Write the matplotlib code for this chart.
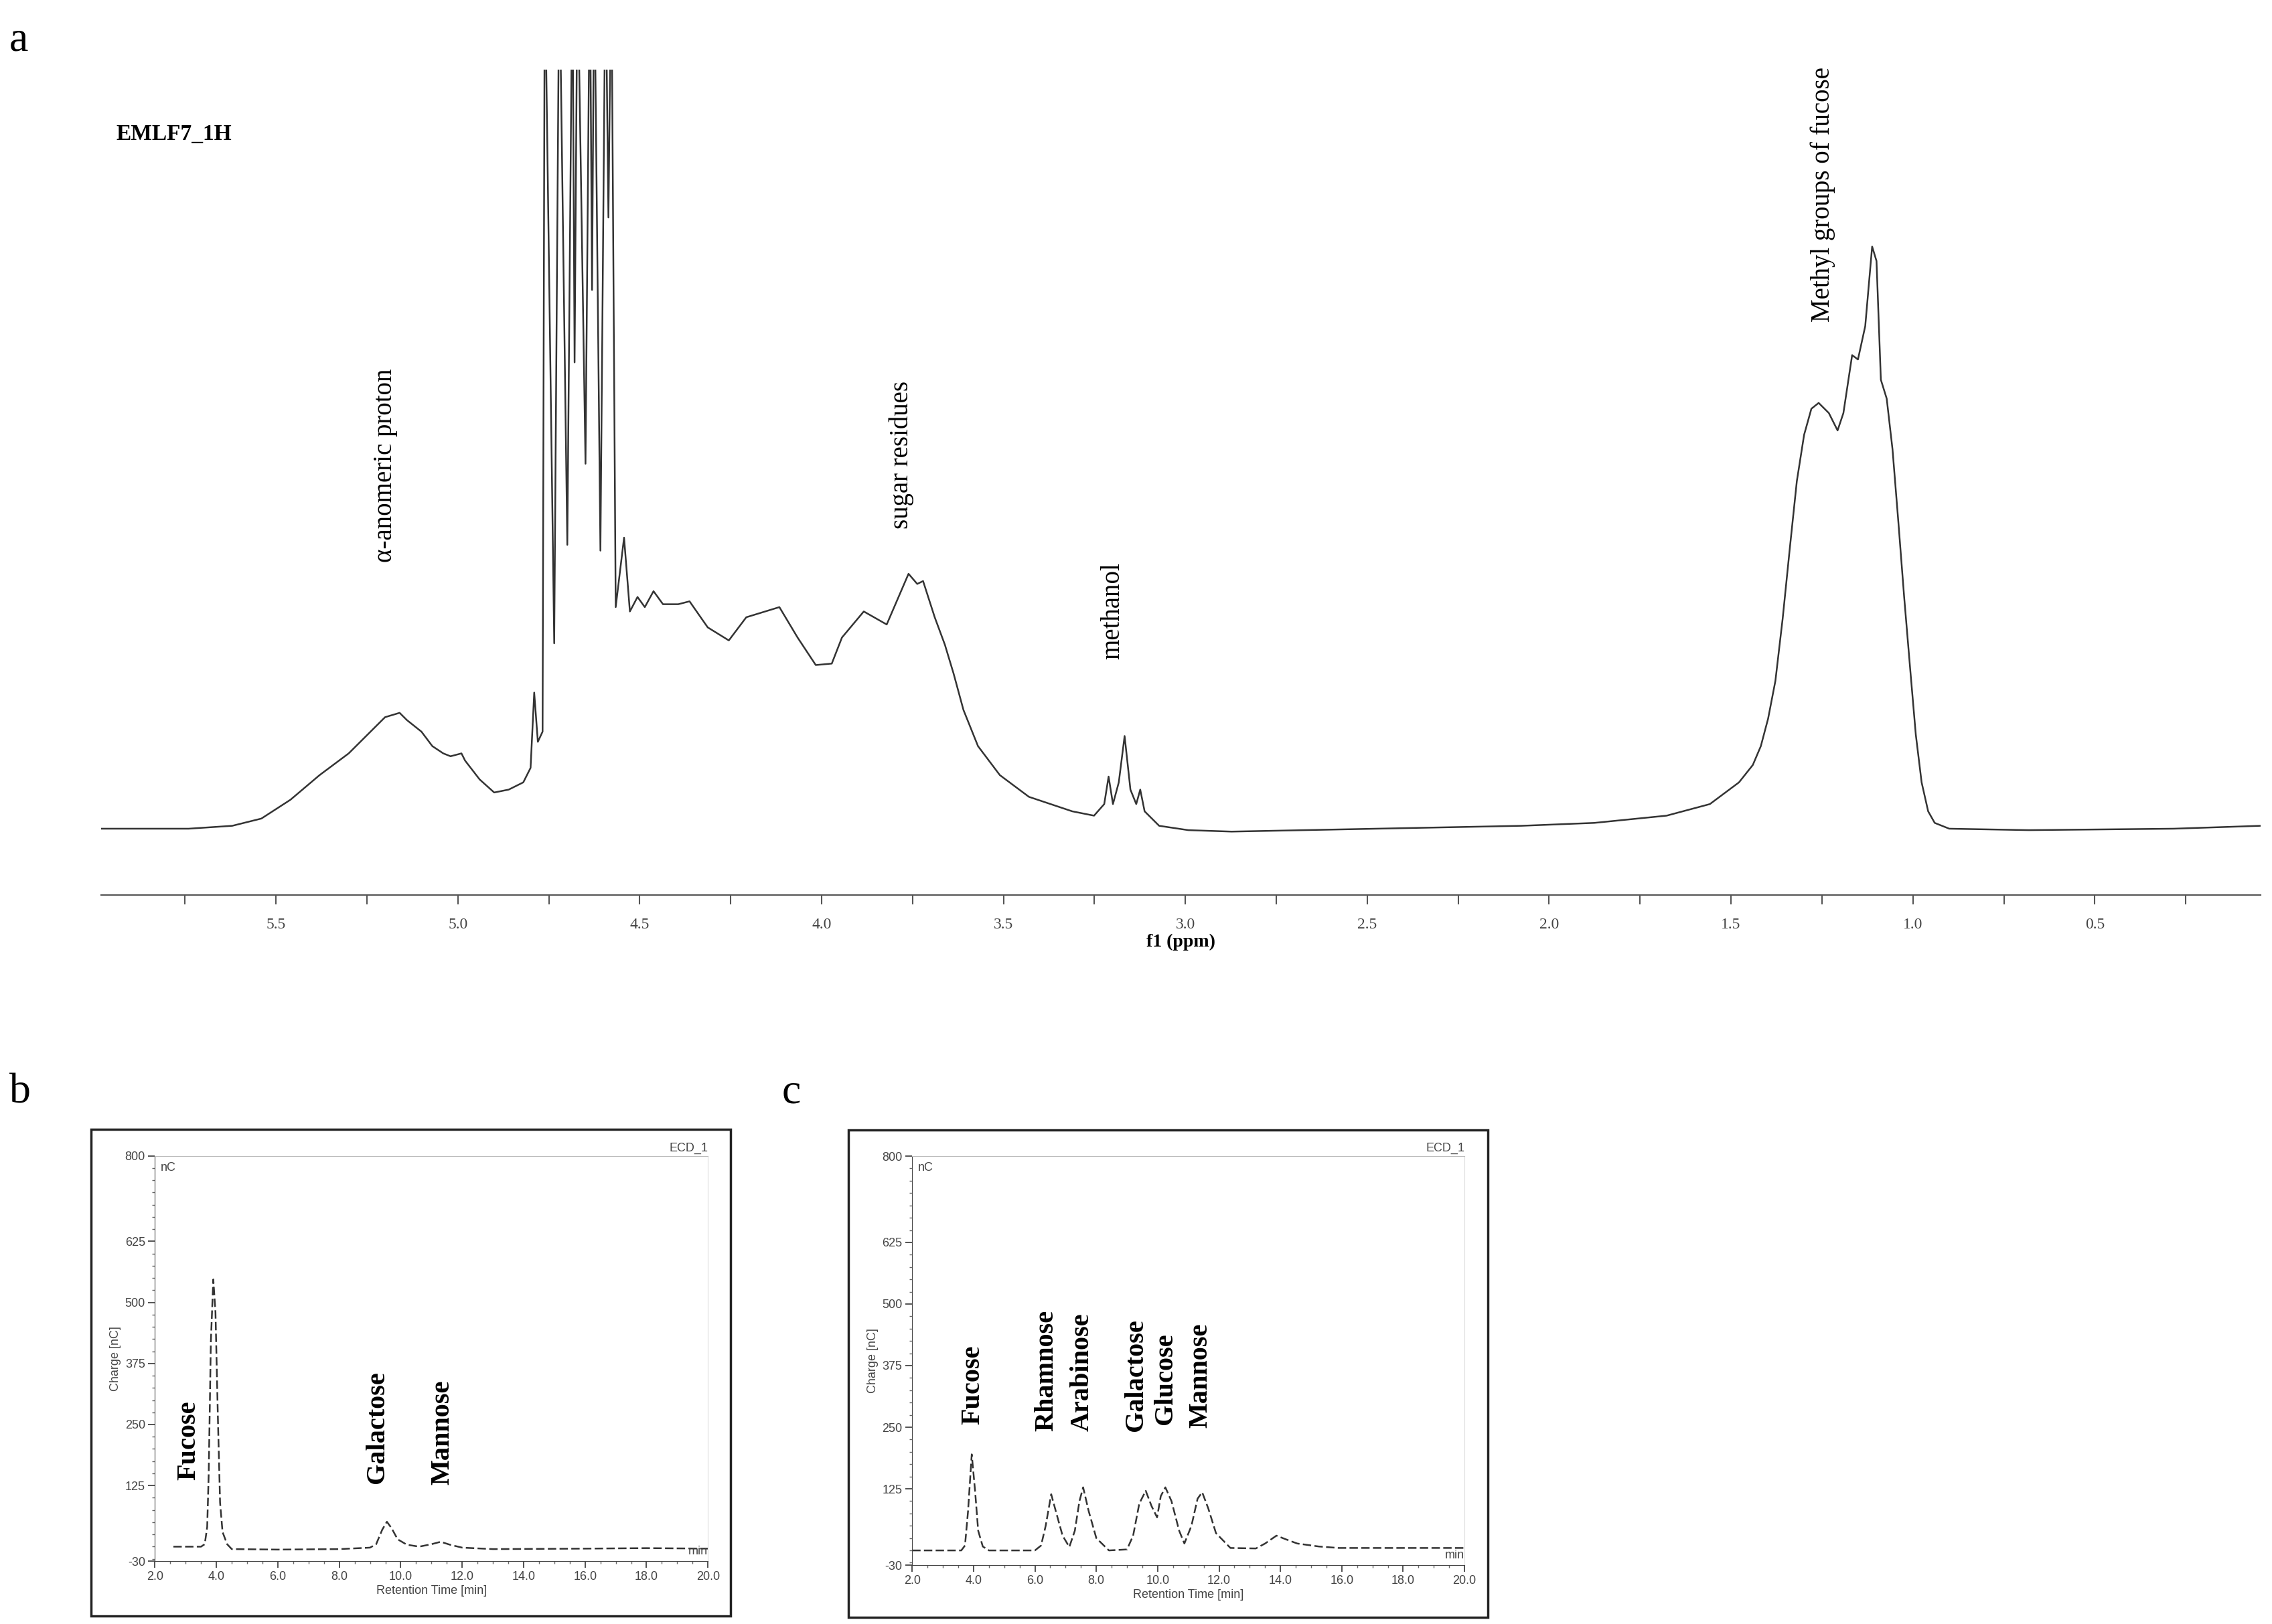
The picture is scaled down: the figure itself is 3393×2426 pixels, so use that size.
import numpy as np
import matplotlib
matplotlib.use('Agg')
import matplotlib.pyplot as plt
from matplotlib.patches import Rectangle
from matplotlib.ticker import MultipleLocator

serif = ['Liberation Serif', 'DejaVu Serif']
sans = ['Liberation Sans', 'DejaVu Sans']

# ---- panel a: 1H NMR trace (ppm, intensity)
nmr_ppm = [5.98, 5.74, 5.62, 5.54, 5.46, 5.38, 5.30, 5.24, 5.20, 5.16, 5.14, 5.10, 5.07, 5.04,
           5.02, 4.99, 4.98, 4.94, 4.90, 4.86, 4.82, 4.80, 4.79, 4.78, 4.767, 4.761, 4.735,
           4.721, 4.699, 4.685, 4.679, 4.671, 4.649, 4.637, 4.631, 4.625, 4.608, 4.594, 4.586,
           4.578, 4.566, 4.543, 4.527, 4.506, 4.486, 4.462, 4.436, 4.394, 4.363, 4.313, 4.255,
           4.207, 4.116, 4.066, 4.016, 3.972, 3.944, 3.884, 3.821, 3.761, 3.737, 3.721, 3.689,
           3.661, 3.637, 3.610, 3.570, 3.510, 3.430, 3.311, 3.251, 3.223, 3.211, 3.199, 3.183,
           3.167, 3.151, 3.135, 3.124, 3.112, 3.072, 2.992, 2.873, 2.673, 2.275, 2.076, 1.876,
           1.677, 1.558, 1.478, 1.440, 1.418, 1.398, 1.378, 1.358, 1.339, 1.319, 1.299, 1.279,
           1.259, 1.231, 1.207, 1.191, 1.167, 1.151, 1.131, 1.112, 1.100, 1.088, 1.072, 1.056,
           1.040, 1.024, 1.008, 0.992, 0.976, 0.958, 0.940, 0.900, 0.681, 0.283, 0.044]
nmr_int = [0, 0, 2, 7, 20, 37, 52, 67, 77, 80, 75, 67, 57, 52,
           50, 52, 47, 34, 25, 27, 32, 42, 94, 60, 67, 600, 128,
           600, 196, 600, 322, 600, 252, 600, 372, 600, 192, 600, 422,
           600, 153, 201, 150, 160, 153, 164, 155, 155, 157, 139, 130,
           146, 153, 132, 113, 114, 132, 150, 141, 176, 169, 171, 146,
           127, 107, 82, 57, 37, 22, 12, 9, 17, 36, 17, 32,
           64, 27, 17, 27, 12, 2, -1, -2, -1, 1, 2, 4,
           9, 17, 32, 44, 57, 76, 102, 145, 192, 240, 272, 290,
           294, 287, 275, 287, 327, 324, 347, 402, 392, 310, 297, 262,
           212, 160, 112, 65, 32, 12, 4, 0, -1, 0, 2]

nmr_labels = ['\u03b1-anomeric proton', 'sugar residues', 'methanol', 'Methyl groups of fucose']
nmr_label_ppm = [5.20, 3.78, 3.20, 1.247]
nmr_label_int = [184, 207, 117, 350]

# ---- panel b / c: HPAEC chromatograms (min, nC)
b_time = [2.6, 3.5, 3.62, 3.70, 3.75, 3.82, 3.9, 3.97, 4.05, 4.12, 4.2, 4.35, 4.5, 6.0, 8.0,
          9.0, 9.2, 9.4, 9.55, 9.7, 9.9, 10.2, 10.6, 11.0, 11.3, 11.6, 12.0, 13.0, 16.0, 18.0, 20.0]
b_charge = [0, 0, 5, 40, 150, 420, 547, 480, 260, 90, 30, 5, -5, -6, -5,
            -2, 5, 35, 51, 38, 15, 4, 0, 5, 10, 4, -2, -5, -4, -3, -4]
b_names = ['Fucose', 'Galactose', 'Mannose']
b_name_t = [3.09, 9.24, 11.35]
b_name_y = [136, 129, 127]

c_time = [2.0, 3.6, 3.72, 3.82, 3.94, 4.05, 4.15, 4.3, 4.5, 6.0, 6.2, 6.35, 6.53, 6.7, 6.9,
          7.12, 7.3, 7.45, 7.57, 7.75, 8.0, 8.41, 9.0, 9.2, 9.4, 9.61, 9.8, 9.98, 10.1, 10.25,
          10.45, 10.7, 10.87, 11.1, 11.3, 11.45, 11.65, 11.9, 12.37, 13.2, 13.5, 13.87, 14.2,
          14.55, 15.25, 15.9, 20.0]
c_charge = [0, 0, 10, 80, 195, 120, 40, 8, 0, 0, 10, 50, 114, 75, 30,
            7, 40, 100, 128, 80, 25, 0, 2, 30, 95, 121, 90, 67, 110, 128,
            100, 40, 14, 50, 105, 118, 85, 35, 5, 4, 14, 30, 22,
            14, 8, 5, 5]
c_names = ['Fucose', 'Rhamnose', 'Arabinose', 'Galactose', 'Glucose', 'Mannose']
c_name_t = [3.98, 6.37, 7.55, 9.30, 10.25, 11.39]
c_name_y = [256, 242, 242, 242, 256, 249]

chrom_yticks = [-30, 125, 250, 375, 500, 625, 800]
chrom_xticks = [2, 4, 6, 8, 10, 12, 14, 16, 18, 20]

fig = plt.figure(figsize=(33.93, 24.26), dpi=100)

# ---------------- panel a
ax = fig.add_axes([0.0446, 0.4487, 0.9504, 0.5083])
ax.plot(nmr_ppm, nmr_int, color='#333333', lw=1.8)
ax.set_xlim(5.98, 0.044)
ax.set_ylim(-46, 524)
for s in ['top', 'left', 'right']:
    ax.spines[s].set_visible(False)
ax.spines['bottom'].set_color('#555555')
ax.spines['bottom'].set_linewidth(1.5)
ax.set_yticks([])
ax.xaxis.set_minor_locator(MultipleLocator(0.25))
ax.set_xticks([5.5, 5.0, 4.5, 4.0, 3.5, 3.0, 2.5, 2.0, 1.5, 1.0, 0.5])
ax.tick_params(axis='x', which='both', direction='out', length=10, width=1.5,
               color='#555555', labelsize=17, labelcolor='#444444', pad=14)
for t in ax.get_xticklabels():
    t.set_family(serif)
ax.set_xlabel('f1 (ppm)', fontsize=20, family=serif, fontweight='bold', labelpad=2)
ax.text(0.007, 0.915, 'EMLF7_1H', transform=ax.transAxes, fontsize=24,
        family=serif, fontweight='bold')
for lab, p, h in zip(nmr_labels, nmr_label_ppm, nmr_label_int):
    ax.text(p, h, lab, rotation=90, ha='center', va='bottom', fontsize=28, family=serif)

fig.text(0.004, 0.975, 'a', fontsize=46, family=serif, va='center')
fig.text(0.004, 0.327, 'b', fontsize=46, family=serif, va='center')
fig.text(0.344, 0.327, 'c', fontsize=46, family=serif, va='center')


def chrom(rect, box, t, y, names, nt, ny):
    fig.patches.append(Rectangle(box[:2], box[2], box[3], transform=fig.transFigure,
                                 fill=False, lw=2.5, ec='#222222'))
    axc = fig.add_axes(rect)
    axc.plot(t, y, color='#333333', lw=1.8, ls=(0, (5, 2)))
    axc.set_xlim(2, 20)
    axc.set_ylim(-30, 800)
    axc.spines['top'].set_color('#bbbbbb')
    axc.spines['right'].set_color('#dddddd')
    axc.spines['left'].set_color('#444444')
    axc.spines['bottom'].set_color('#444444')
    axc.set_xticks(chrom_xticks)
    axc.set_xticklabels([f'{v:.1f}' for v in chrom_xticks])
    axc.xaxis.set_minor_locator(MultipleLocator(0.5))
    axc.set_yticks(chrom_yticks)
    axc.set_yticklabels([str(v) for v in chrom_yticks])
    axc.yaxis.set_minor_locator(MultipleLocator(25))
    axc.tick_params(which='major', length=7, width=1.3, color='#444444',
                    labelsize=13, labelcolor='#444444')
    axc.tick_params(which='minor', length=3, width=1.0, color='#666666')
    for tl in axc.get_xticklabels() + axc.get_yticklabels():
        tl.set_family(sans)
    axc.set_xlabel('Retention Time [min]', fontsize=13, color='#444444', family=sans, labelpad=3)
    axc.set_ylabel('Charge [nC]', fontsize=13, color='#444444', family=sans, labelpad=4)
    axc.text(1.0, 1.005, 'ECD_1', transform=axc.transAxes, ha='right', va='bottom',
             fontsize=13, color='#444444', family=sans)
    axc.text(0.01, 0.985, 'nC', transform=axc.transAxes, ha='left', va='top',
             fontsize=13, color='#444444', family=sans)
    axc.text(1.0, 0.01, 'min', transform=axc.transAxes, ha='right', va='bottom',
             fontsize=13, color='#444444', family=sans)
    for n, a, b in zip(names, nt, ny):
        axc.text(a, b, n, rotation=90, ha='center', va='bottom', fontsize=29,
                 family=serif, fontweight='bold')


chrom([0.0682, 0.0386, 0.2434, 0.2497], (0.040, 0.0049, 0.2815, 0.2997),
      b_time, b_charge, b_names, b_name_t, b_name_y)
chrom([0.4015, 0.0362, 0.2431, 0.2519], (0.3735, 0.0040, 0.2813, 0.3004),
      c_time, c_charge, c_names, c_name_t, c_name_y)

fig.savefig('out.png', dpi=100)
